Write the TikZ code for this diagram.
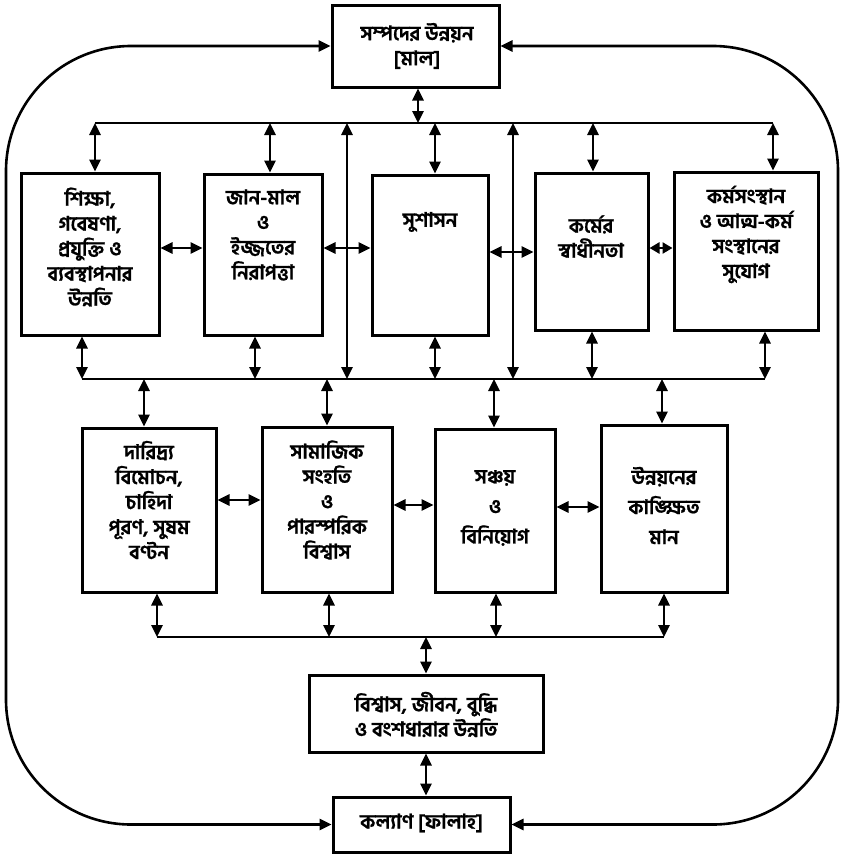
\documentclass[tikz,border=0pt]{standalone}
\usepackage{fontspec}
\newfontfamily\bn[Script=Bengali, BoldFeatures={FakeBold=0.8}]{Hind Siliguri}
\newcommand\bntext{\bn\bfseries\fontsize{20}{25}\selectfont\lineskiplimit=-30pt\relax}
\usetikzlibrary{arrows.meta}
\begin{document}
\begin{tikzpicture}[x=1pt,y=-1pt,
  box/.style={draw, line width=3pt, inner sep=0pt},
  txt/.style={font=\bntext, align=center, inner sep=0pt},
  link/.style={line width=2.6pt, {Triangle[length=12pt,width=11pt]}-{Triangle[length=12pt,width=11pt]}},
  wire/.style={line width=2.6pt}]
\useasboundingbox (0,0) rectangle (845,857);
% boxes
\node[box, minimum width=167pt, minimum height=82pt] (top) at (415.5,46) {};
\node[box, minimum width=138pt, minimum height=162pt] (b1) at (90,254) {};
\node[box, minimum width=118pt, minimum height=161pt] (b2) at (263,254.5) {};
\node[box, minimum width=116pt, minimum height=160pt] (b3) at (430,255) {};
\node[box, minimum width=113pt, minimum height=157pt] (b4) at (591.5,251.5) {};
\node[box, minimum width=144pt, minimum height=158pt] (b5) at (746,251) {};
\node[box, minimum width=134pt, minimum height=164pt] (r1) at (149,510) {};
\node[box, minimum width=130pt, minimum height=165pt] (r2) at (327,509.5) {};
\node[box, minimum width=120pt, minimum height=163pt] (r3) at (495,510.5) {};
\node[box, minimum width=126pt, minimum height=167pt] (r4) at (664,508.5) {};
\node[box, minimum width=234pt, minimum height=77pt] (bot) at (426,713.5) {};
\node[box, minimum width=177pt, minimum height=55pt] (fin) at (421.5,824.5) {};
% texts
\node[txt] (ttop) at (417,46) {সম্পদের উন্নয়ন\\{[}মাল]};
\node[txt] (tb1) at (90,247) {শিক্ষা,\\গবেষণা,\\প্রযুক্তি ও\\ব্যবস্থাপনার\\উন্নতি};
\node[txt] (tb2) at (263,235) {জান-মাল\\ও\\ইজ্জতের\\নিরাপত্তা};
\node[txt] (tb3) at (430,222) {সুশাসন};
\node[txt] (tb4) at (591,236.5) {কর্মের\\স্বাধীনতা};
\node[txt] (tb5) at (746,234.5) {কর্মসংস্থান\\ও আত্ম-কর্ম\\সংস্থানের\\সুযোগ};
\node[txt] (tr1) at (149,500) {দারিদ্র্য\\বিমোচন,\\চাহিদা\\পূরণ, সুষম\\বণ্টন};
\node[txt] (tr2) at (327,500) {সামাজিক\\সংহতি\\ও\\পারস্পরিক\\বিশ্বাস};
\node[txt] (tr3) at (495,508) {সঞ্চয়\\[5pt]ও\\[5pt]বিনিয়োগ};
\node[txt] (tr4) at (664,505.5) {উন্নয়নের\\[5pt]কাঙ্ক্ষিত\\[5pt]মান};
\node[txt] (tbot) at (426,714.5) {বিশ্বাস, জীবন, বুদ্ধি\\ও বংশধারার উন্নতি};
\node[txt] (tfin) at (421.5,823) {কল্যাণ [ফালাহ]};
% bus coordinates
\coordinate (fl) at (6,0);
\coordinate (fr) at (838,0);
\coordinate (ta) at (95,123);
\coordinate (tz) at (773,123);
\coordinate (la) at (82,379);
\coordinate (lz) at (765,379);
\coordinate (ma) at (157,637);
\coordinate (mz) at (664,637);
% outer frame
\draw[link, rounded corners=125pt] (top.west) -| (fl |- fin.west) -- (fin.west);
\draw[link, rounded corners=125pt] (top.east) -| (fr |- fin.east) -- (fin.east);
% buses
\draw[wire] (ta) -- (tz);
\draw[wire] (la) -- (lz);
\draw[wire] (ma) -- (mz);
% top box to top bus
\coordinate (tc) at (418,0);
\draw[link] (top.south -| tc) -- (ta -| tc);
% top bus to top row
\draw[link] (ta) -- (b1.north -| ta);
\coordinate (x2) at (270,0);
\draw[link] (ta -| x2) -- (b2.north -| x2);
\coordinate (x3) at (435,0);
\draw[link] (ta -| x3) -- (b3.north -| x3);
\coordinate (x4) at (593,0);
\draw[link] (ta -| x4) -- (b4.north -| x4);
\draw[link] (tz) -- (b5.north -| tz);
% long links between buses
\coordinate (v1) at (347,0);
\coordinate (v2) at (513,0);
\draw[link] (ta -| v1) -- (la -| v1);
\draw[link] (ta -| v2) -- (la -| v2);
% top row to lower bus
\draw[link] (b1.south -| la) -- (la);
\coordinate (y2) at (255,0);
\draw[link] (b2.south -| y2) -- (la -| y2);
\draw[link] (b3.south -| x3) -- (la -| x3);
\coordinate (y4) at (592,0);
\draw[link] (b4.south -| y4) -- (la -| y4);
\draw[link] (b5.south -| lz) -- (lz);
% horizontal links top row
\coordinate (h1) at (0,248);
\coordinate (h2) at (0,252);
\draw[link] (b1.east |- h1) -- (b2.west |- h1);
\draw[link] (b2.east |- h1) -- (b3.west |- h1);
\draw[link] (b3.east |- h2) -- (b4.west |- h2);
\draw[link, {Triangle[length=10pt,width=11pt]}-{Triangle[length=10pt,width=11pt]}] (b4.east |- h1) -- (b5.west |- h1);
% lower bus to row 2
\coordinate (z1) at (144,0);
\coordinate (z2) at (327,0);
\coordinate (z3) at (494,0);
\coordinate (z4) at (662,0);
\draw[link] (la -| z1) -- (r1.north -| z1);
\draw[link] (la -| z2) -- (r2.north -| z2);
\draw[link] (la -| z3) -- (r3.north -| z3);
\draw[link] (la -| z4) -- (r4.north -| z4);
% horizontal links row 2
\coordinate (k1) at (0,500);
\coordinate (k2) at (0,505);
\coordinate (k3) at (0,507);
\draw[link] (r1.east |- k1) -- (r2.west |- k1);
\draw[link] (r2.east |- k2) -- (r3.west |- k2);
\draw[link] (r3.east |- k3) -- (r4.west |- k3);
% row 2 to bus 2
\coordinate (w2) at (329,0);
\coordinate (w3) at (496,0);
\draw[link] (r1.south -| ma) -- (ma);
\draw[link] (r2.south -| w2) -- (ma -| w2);
\draw[link] (r3.south -| w3) -- (ma -| w3);
\draw[link] (r4.south -| mz) -- (mz);
% bus 2 to bottom box, bottom box to final
\coordinate (c) at (426,0);
\draw[link] (ma -| c) -- (bot.north -| c);
\draw[link] (bot.south -| c) -- (fin.north -| c);
\end{tikzpicture}
\end{document}
